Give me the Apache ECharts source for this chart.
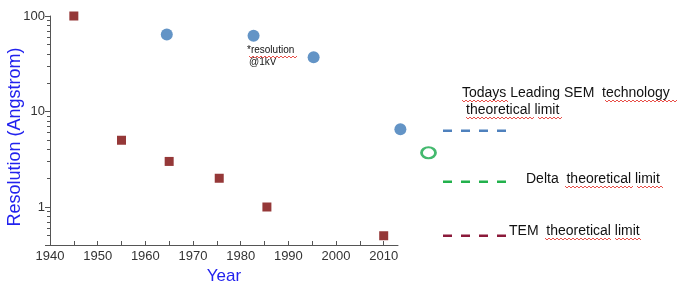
<!DOCTYPE html>
<html>
<head>
    <meta charset="utf-8">
    <title>Resolution vs Year</title>
    <script src="https://cdn.jsdelivr.net/npm/echarts@6/dist/echarts.min.js"></script>
</head>
<body style="margin:0;">
    <div id="chart" style="width: 681px;height:282px;"></div>
    <script type="text/javascript">
        // axis ticks
        var yearTicks = [1940, 1950, 1960, 1970, 1980, 1990, 2000, 2010];
        var yearMinorTicks = [1945, 1955, 1965, 1975, 1985, 1995, 2005];
        var resTicks = [1, 10, 100];

        // older instruments (squares)
        var oldYears = [1945, 1955, 1965, 1975.5, 1985.5, 2010];
        var oldRes = [100, 5, 3, 2, 1, 0.5];

        // SEM at 1kV (blue dots)
        var semYears = [1964.5, 1982.7, 1995.3, 2013.5];
        var semRes = [64, 62, 37, 6.5];

        // Delta (green ring)
        var deltaYears = [2019.4];
        var deltaRes = [3.7];

        // theoretical limits (dashed marks on the right)
        var limitNames = ['SEM limit', 'Delta limit', 'TEM limit'];
        var limitValues = [6.3, 1.84, 0.5];
        var limitColors = ['#4f81bd', '#22b14c', '#8b1a3a'];

        function pairs(xs, ys) {
            return xs.map(function (x, i) { return [x, ys[i]]; });
        }

        // red spell-check wave under a word
        function squiggle(x0, x1, y) {
            var pts = [];
            for (var x = x0, k = 0; x <= x1; x += 2, k++) pts.push([x, y + (k % 2 ? 1 : -1)]);
            return { type: 'polyline', silent: true, shape: { points: pts }, style: { stroke: '#e8504a', lineWidth: 1, fill: null } };
        }

        var chart = echarts.init(document.getElementById('chart'));
        var font = 'Liberation Sans, Arial, sans-serif';

        var series = [
            {
                type: 'scatter', clip: false, symbol: 'rect', symbolSize: 9,
                itemStyle: { color: '#7a0606' },
                data: pairs(oldYears, oldRes)
            },
            {
                type: 'scatter', clip: false, symbol: 'circle', symbolSize: 12,
                itemStyle: { color: '#3c79b8' },
                data: pairs(semYears, semRes)
            },
            {
                type: 'scatter', clip: false, symbol: 'circle', symbolSize: [14, 11],
                itemStyle: { color: '#ffffff', borderColor: '#14a84a', borderWidth: 2.5 },
                data: pairs(deltaYears, deltaRes)
            }
        ];
        // limit dashes live in a small side grid sharing the same log scale
        limitValues.forEach(function (v, i) {
            series.push({
                name: limitNames[i], type: 'line', xAxisIndex: 1, yAxisIndex: 1, symbol: 'none',
                lineStyle: { color: limitColors[i], width: 2.5, type: [9, 9] },
                data: [[0, v], [1, v]]
            });
        });

        var tickColor = '#555';
        var textStyle = { fontSize: 14, fontFamily: font, fill: '#111' };
        function note(left, top, text, size) {
            return { type: 'text', left: left, top: top, style: Object.assign({}, textStyle, { text: text, fontSize: size || 14 }) };
        }

        var option = {
            animation: false,
            grid: [
                { left: 50, right: 283, top: 16, bottom: 37, outerBoundsMode: 'none', containLabel: false },
                { left: 443, width: 63, top: 16, bottom: 37, outerBoundsMode: 'none', containLabel: false }
            ],
            xAxis: [
                {
                    type: 'value', min: 1940, max: 2013, position: 'bottom', gridIndex: 0,
                    name: 'Year', nameLocation: 'middle', nameGap: 20,
                    nameTextStyle: { color: '#2222ee', fontSize: 17, fontFamily: font },
                    splitLine: { show: false },
                    axisLine: { lineStyle: { color: tickColor } },
                    axisTick: { inside: true, length: 4, customValues: yearTicks.concat(yearMinorTicks), lineStyle: { color: tickColor } },
                    axisLabel: {
                        customValues: yearTicks, color: '#333', fontSize: 13, fontFamily: font, margin: 5,
                        formatter: function (v) { return String(v); }
                    }
                },
                {
                    type: 'value', min: 0, max: 1, gridIndex: 1, show: false
                }
            ],
            yAxis: [
                {
                    type: 'log', min: 0.4, max: 100, position: 'left', gridIndex: 0,
                    splitLine: { show: false },
                    axisLine: { show: true, lineStyle: { color: tickColor } },
                    axisTick: { length: 5, lineStyle: { color: tickColor } },
                    minorTick: { show: true, splitNumber: 9, length: 3, lineStyle: { color: tickColor } },
                    axisLabel: {
                        color: '#333', fontSize: 13, fontFamily: font, margin: 5,
                        // only the decades are labelled
                        formatter: function (v) {
                            return resTicks.some(function (t) { return Math.abs(t - v) < 1e-6; }) ? String(v) : '';
                        }
                    }
                },
                {
                    type: 'log', min: 0.4, max: 100, gridIndex: 1, show: false
                }
            ],
            graphic: [
                {
                    type: 'text', x: 15, y: 137, rotation: Math.PI / 2,
                    style: { text: 'Resolution (Angstrom)', fontSize: 18, fontFamily: font, fill: '#2222ee', align: 'center', verticalAlign: 'middle' }
                },
                note(247, 45, '*resolution', 10),
                note(249, 57, '@1kV', 10),
                note(462, 86, 'Todays Leading SEM  technology'),
                note(466, 103, 'theoretical limit'),
                note(526, 172, 'Delta  theoretical limit'),
                note(509, 224, 'TEM  theoretical limit'),
                squiggle(249, 298, 57),
                squiggle(462, 509, 101),
                squiggle(605, 677, 101),
                squiggle(466, 535, 118),
                squiggle(538, 563, 118),
                squiggle(565, 633, 187),
                squiggle(637, 663, 187),
                squiggle(545, 612, 239),
                squiggle(615, 642, 239)
            ],
            series: series
        };
        chart.setOption(option);
    </script>
</body>
</html>
